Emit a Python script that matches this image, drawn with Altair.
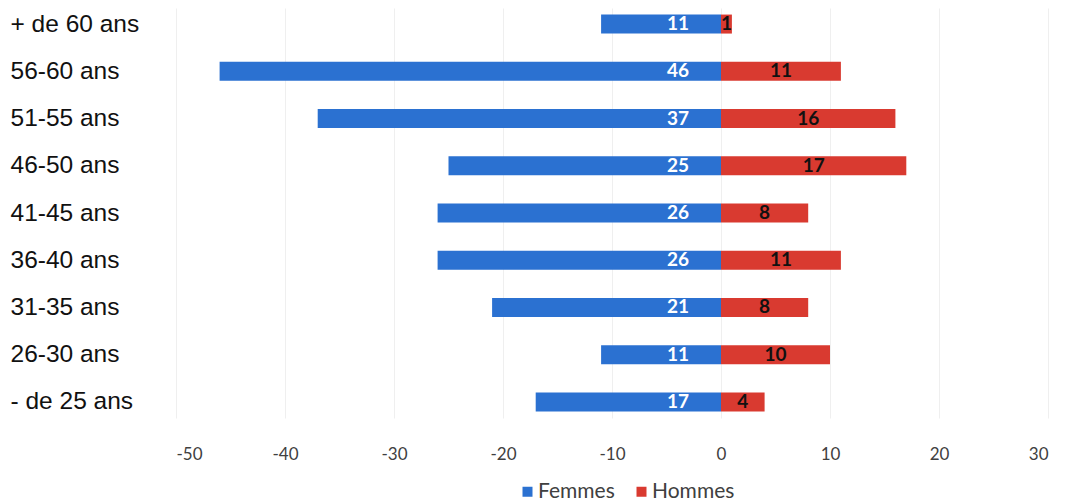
import altair as alt
import pandas as pd

categories = ["+ de 60 ans", "56-60 ans", "51-55 ans", "46-50 ans", "41-45 ans",
              "36-40 ans", "31-35 ans", "26-30 ans", "- de 25 ans"]
femmes = [11, 46, 37, 25, 26, 26, 21, 11, 17]
hommes = [1, 11, 16, 17, 8, 11, 8, 10, 4]
x_ticks = [-50, -40, -30, -20, -10, 0, 10, 20, 30]

rows = []
for c, f, h in zip(categories, femmes, hommes):
    rows.append({"cat": c, "sexe": "Femmes", "val": -f, "label": str(f), "mid": 0})
    rows.append({"cat": c, "sexe": "Hommes", "val": h, "label": str(h), "mid": h / 2})
df = pd.DataFrame(rows)

xscale = alt.Scale(domain=[-50, 30], nice=False, zero=False)
yscale = alt.Scale(type="point", domain=categories, padding=0.34)
color = alt.Scale(domain=["Femmes", "Hommes"], range=["#2B71D1", "#D93A30"])

bars = alt.Chart(df).mark_bar(size=19).encode(
    x=alt.X("val:Q", scale=xscale,
            axis=alt.Axis(values=x_ticks, title=None, grid=True, gridColor="#efefef",
                          domain=False, ticks=False, labelFont="Lato", labelFontSize=17,
                          labelColor="#404040", labelPadding=28,
                          labelExpr="'' + datum.value")),
    x2=alt.datum(0),
    y=alt.Y("cat:N", scale=yscale, sort=categories,
            axis=alt.Axis(title=None, domain=False, ticks=False, grid=False,
                          labelAlign="left", labelPadding=166,
                          labelFont="Liberation Sans", labelFontSize=24.5,
                          labelColor="#111111")),
    color=alt.Color("sexe:N", scale=color,
                    legend=alt.Legend(title=None, orient="none", legendX=341, legendY=473,
                                      direction="horizontal", symbolType="square",
                                      symbolSize=100, symbolStrokeWidth=0,
                                      labelFont="Lato", labelFontSize=21,
                                      labelColor="#404040", columnPadding=16,
                                      labelOffset=0)),
)

f_text = alt.Chart(df[df.sexe == "Femmes"]).mark_text(
    align="right", baseline="middle", dx=-32, fontWeight="bold",
    font="Lato", fontSize=19, color="white"
).encode(x="mid:Q", y=alt.Y("cat:N", scale=yscale, sort=categories), text="label:N")

h_text = alt.Chart(df[df.sexe == "Hommes"]).mark_text(
    align="center", baseline="middle", fontWeight="bold",
    font="Lato", fontSize=19, color="#111111"
).encode(x="mid:Q", y=alt.Y("cat:N", scale=yscale, sort=categories), text="label:N")

chart = alt.layer(bars, f_text, h_text).properties(
    width=872, height=410,
    background="white",
    autosize=alt.AutoSizeParams(type="none"),
    padding={"left": 168, "top": 0, "right": 10, "bottom": 86},
).configure_view(stroke=None)

chart.save("out.html", embed_options={"renderer": "svg", "actions": False})
